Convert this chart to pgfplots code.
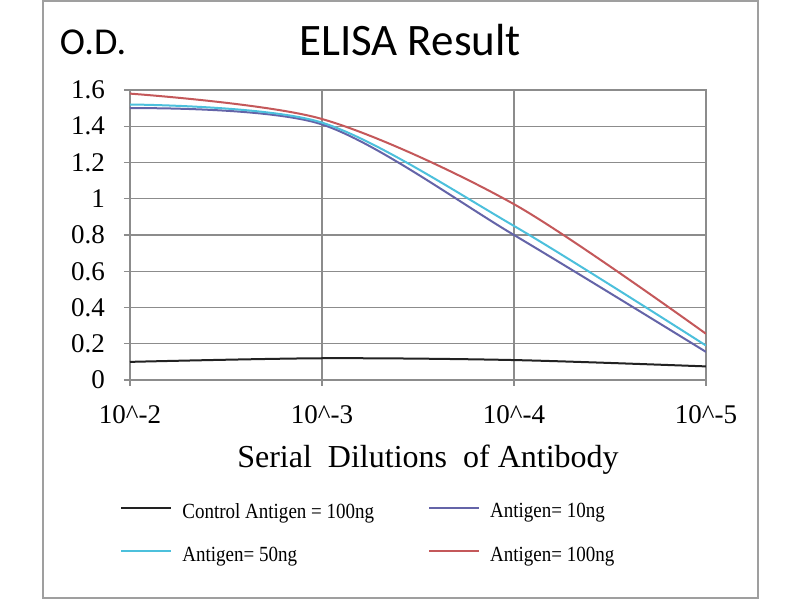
\documentclass[border=0pt]{standalone}
\usepackage{fontspec}
\setmainfont{Liberation Serif}
\newfontfamily\calibri{Carlito}
\newfontfamily\legfont[FakeStretch=0.88]{Liberation Serif}
\usepackage{pgfplots}
\pgfplotsset{compat=1.18}
\definecolor{cCtrl}{HTML}{222222}
\definecolor{cTen}{HTML}{6464A8}
\definecolor{cFifty}{HTML}{4CC0DC}
\definecolor{cHund}{HTML}{C4585A}
\definecolor{cGrid}{HTML}{8C8C8C}
\begin{document}
\begin{tikzpicture}
\path[use as bounding box] (0,0) rectangle (400pt,300pt);
\fill[white] (0,0) rectangle (400pt,300pt);
\draw[gray!75, line width=1pt] (21.5pt,1pt) rectangle (379pt,299.5pt);
\node[font=\calibri\fontsize{22.5}{26}\selectfont] at (205pt,280pt) {ELISA Result};
\node[font=\calibri\fontsize{19}{22}\selectfont] at (46.5pt,279pt) {O.D.};
\node[font=\fontsize{16}{19}\selectfont] at (214pt,70pt) {Serial\ \ Dilutions\ \ of Antibody};
\begin{axis}[
  at={(65pt,110pt)}, anchor=south west,
  scale only axis, width=288pt, height=145pt,
  xmin=0, xmax=3, ymin=0, ymax=1.6,
  xtick={0,1,2,3},
  xticklabels={10\textasciicircum-2,10\textasciicircum-3,10\textasciicircum-4,10\textasciicircum-5},
  ytick={0,0.2,0.4,0.6,0.8,1,1.2,1.4,1.6},
  yticklabels={0,0.2,0.4,0.6,0.8,1,1.2,1.4,1.6},
  tick label style={font=\fontsize{13.5}{16}\selectfont},
  xticklabel style={yshift=-6pt},
  yticklabel style={xshift=-6pt},
  grid=major,
  major grid style={cGrid, line width=0.7pt},
  axis line style={cGrid, line width=0.7pt},
  tick style={cGrid, line width=0.7pt},
  tick align=outside, major tick length=3pt,
  xtick pos=bottom, ytick pos=left,
  legend columns=2,
  legend cell align=left,
  legend image code/.code={\draw[#1] (0pt,0.5ex) -- (25pt,0.5ex);},
  legend style={
    at={(axis description cs:-0.0174,-0.41)}, anchor=north west,
    draw=none, fill=none, inner sep=0pt,
    font=\legfont\fontsize{10.8}{12}\selectfont,
    row sep=9pt,
    /tikz/every odd column/.append style={column sep=3pt},
    /tikz/every even column/.append style={column sep=25pt},
  },
]
\addplot[cCtrl, line width=1pt, smooth] coordinates {(0,0.10) (1,0.12) (2,0.11) (3,0.075)};
\addlegendentry{Control Antigen = 100ng}
\addplot[cTen, line width=1pt, smooth] coordinates {(0,1.50) (1,1.41) (2,0.80) (3,0.155)};
\addlegendentry{Antigen= 10ng}
\addplot[cFifty, line width=1pt, smooth] coordinates {(0,1.52) (1,1.42) (2,0.85) (3,0.19)};
\addlegendentry{Antigen= 50ng}
\addplot[cHund, line width=1pt, smooth] coordinates {(0,1.58) (1,1.44) (2,0.97) (3,0.255)};
\addlegendentry{Antigen= 100ng}
\end{axis}
\end{tikzpicture}
\end{document}
